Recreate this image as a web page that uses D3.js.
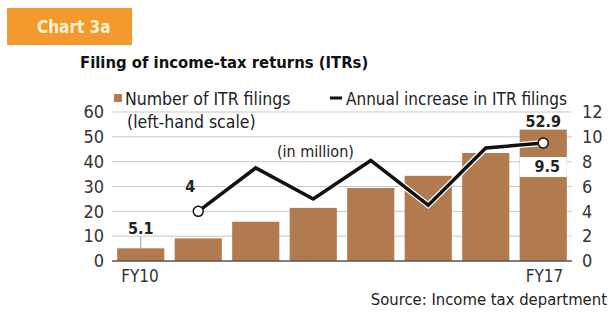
<!DOCTYPE html>
<html>
<head>
<meta charset="utf-8">
<script src="https://cdn.jsdelivr.net/npm/d3@7"></script>
<style>
  body { margin: 0; background: #fff; }
  svg { font-family: "DejaVu Sans Condensed", "Liberation Sans Narrow", sans-serif; }
</style>
</head>
<body>
<svg width="609" height="313"></svg>
<script>
  // data
  var years = ["FY10", "FY11", "FY12", "FY13", "FY14", "FY15", "FY16", "FY17"];
  var filings = [5.1, 9.1, 15.8, 21.4, 29.4, 34.3, 43.5, 52.9];
  var increase = [null, 4, 7.5, 5, 8.1, 4.5, 9.1, 9.5];
  var leftTicks = [0, 10, 20, 30, 40, 50, 60];
  var rightTicks = [0, 2, 4, 6, 8, 10, 12];

  var svg = d3.select("svg");
  var brown = "#b27a4f";

  var x = d3.scaleBand()
      .domain(years)
      .range([112, 572])
      .paddingInner(0.18)
      .paddingOuter(0.09);

  var yL = d3.scaleLinear().domain([0, 60]).range([261, 112]);
  var yR = d3.scaleLinear().domain([0, 12]).range([261, 112]);

  // header
  svg.append("rect")
      .attr("x", 7).attr("y", 8).attr("width", 125).attr("height", 37)
      .attr("fill", "#f39a2e");
  svg.append("text")
      .attr("x", 37).attr("y", 33)
      .attr("fill", "#fdf3d0")
      .attr("font-size", 17)
      .attr("font-weight", "bold")
      .text("Chart 3a");
  svg.append("text")
      .attr("x", 80).attr("y", 68)
      .attr("fill", "#111")
      .attr("font-size", 16.5)
      .attr("font-weight", "bold")
      .text("Filing of income-tax returns (ITRs)");

  // gridlines
  svg.append("g")
    .selectAll("line")
    .data(leftTicks.slice(1))
    .enter().append("line")
      .attr("x1", 112).attr("x2", 572)
      .attr("y1", function(d) { return yL(d); })
      .attr("y2", function(d) { return yL(d); })
      .attr("stroke", "#c8c8c8")
      .attr("stroke-width", 1);

  // axes
  var gl = svg.append("g")
      .attr("transform", "translate(104,0)")
      .call(d3.axisLeft(yL).tickValues(leftTicks).tickSize(0).tickPadding(0));
  var gr = svg.append("g")
      .attr("transform", "translate(582,0)")
      .call(d3.axisRight(yR).tickValues(rightTicks).tickSize(0).tickPadding(0));
  [gl, gr].forEach(function(g) {
    g.select(".domain").remove();
    g.selectAll("text")
      .attr("font-family", "DejaVu Sans Condensed, Liberation Sans Narrow, sans-serif")
      .attr("font-size", 18)
      .attr("fill", "#333");
  });

  // bars
  svg.append("g")
    .selectAll("rect")
    .data(filings)
    .enter().append("rect")
      .attr("x", function(d, i) { return x(years[i]); })
      .attr("width", x.bandwidth())
      .attr("y", function(d) { return yL(d); })
      .attr("height", function(d) { return yL(0) - yL(d); })
      .attr("fill", brown);

  svg.append("line")
      .attr("x1", 112).attr("x2", 572)
      .attr("y1", yL(0)).attr("y2", yL(0))
      .attr("stroke", "#555").attr("stroke-width", 1.5);

  // white band for the 9.5 label on the last bar
  var last = years.length - 1;
  svg.append("rect")
      .attr("x", x(years[last])).attr("width", x.bandwidth())
      .attr("y", yR(increase[last]) + 14).attr("height", 20)
      .attr("fill", "#fff");

  // line
  var pts = increase.map(function(v, i) { return [years[i], v]; })
      .filter(function(d) { return d[1] != null; });
  var line = d3.line()
      .x(function(d) { return x(d[0]) + x.bandwidth() / 2; })
      .y(function(d) { return yR(d[1]); });
  svg.append("path")
      .datum(pts)
      .attr("d", line)
      .attr("fill", "none")
      .attr("stroke", "#fff")
      .attr("stroke-width", 6)
      .attr("stroke-linejoin", "miter");
  svg.append("path")
      .datum(pts)
      .attr("d", line)
      .attr("fill", "none")
      .attr("stroke", "#111")
      .attr("stroke-width", 3.5)
      .attr("stroke-linejoin", "miter");

  svg.append("g")
    .selectAll("circle")
    .data([pts[0], pts[pts.length - 1]])
    .enter().append("circle")
      .attr("cx", function(d) { return x(d[0]) + x.bandwidth() / 2; })
      .attr("cy", function(d) { return yR(d[1]); })
      .attr("r", 5)
      .attr("fill", "#fff")
      .attr("stroke", "#111")
      .attr("stroke-width", 1.5);

  // value labels
  var cx = function(i) { return x(years[i]) + x.bandwidth() / 2; };
  svg.append("line")
      .attr("x1", cx(0)).attr("x2", cx(0))
      .attr("y1", yL(filings[0]) - 12).attr("y2", yL(filings[0]))
      .attr("stroke", "#999").attr("stroke-width", 1);
  var labels = [
    { x: cx(0), y: yL(filings[0]) - 14, t: filings[0] },
    { x: cx(1) - 8, y: yR(increase[1]) - 19, t: increase[1] },
    { x: cx(last), y: yL(filings[last]) - 3, t: filings[last] },
    { x: cx(last) + 4, y: yR(increase[last]) + 29, t: increase[last] }
  ];
  svg.append("g")
    .selectAll("text")
    .data(labels)
    .enter().append("text")
      .attr("x", function(d) { return d.x; })
      .attr("y", function(d) { return d.y; })
      .attr("text-anchor", "middle")
      .attr("font-size", 16)
      .attr("font-weight", "bold")
      .attr("fill", "#222")
      .text(function(d) { return d.t; });

  // legend
  svg.append("rect")
      .attr("x", 114).attr("y", 94).attr("width", 8).attr("height", 8)
      .attr("fill", brown);
  svg.append("text")
      .attr("x", 125).attr("y", 105)
      .attr("font-size", 17.5).attr("fill", "#222")
      .text("Number of ITR filings");
  svg.append("text")
      .attr("x", 127).attr("y", 128)
      .attr("font-size", 17.5).attr("fill", "#222")
      .text("(left-hand scale)");
  svg.append("line")
      .attr("x1", 330).attr("x2", 342).attr("y1", 98).attr("y2", 98)
      .attr("stroke", "#111").attr("stroke-width", 3);
  svg.append("text")
      .attr("x", 346).attr("y", 105)
      .attr("font-size", 17).attr("fill", "#222")
      .text("Annual increase in ITR filings");
  svg.append("text")
      .attr("x", 277).attr("y", 157)
      .attr("font-size", 16).attr("fill", "#222")
      .text("(in million)");

  // category labels
  svg.append("text")
      .attr("x", x("FY10") + 4).attr("y", 282)
      .attr("font-size", 17).attr("fill", "#333")
      .text("FY10");
  svg.append("text")
      .attr("x", x("FY17") + 6).attr("y", 282)
      .attr("font-size", 17).attr("fill", "#333")
      .text("FY17");
  svg.append("text")
      .attr("x", 607).attr("y", 305)
      .attr("text-anchor", "end")
      .attr("font-size", 16.5).attr("fill", "#222")
      .text("Source: Income tax department");
</script>
</body>
</html>
